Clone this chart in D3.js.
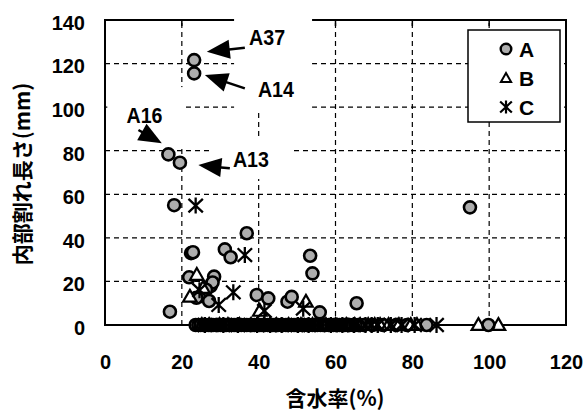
<!DOCTYPE html>
<html>
<head>
<meta charset="utf-8">
<script src="https://cdn.jsdelivr.net/npm/d3@7"></script>
<style>
  body { margin: 0; background: #fff; }
  text { font-family: 'Liberation Sans', Arial, sans-serif; font-weight: bold; fill: #000; }
  .jp { font-family: 'Noto Sans CJK JP', sans-serif; }
</style>
</head>
<body>
<div id="container"></div>
<script>
var xTicks = [0, 20, 40, 60, 80, 100, 120]
var yTicks = [0, 20, 40, 60, 80, 100, 120, 140]
var seriesNames = ['A', 'B', 'C']

// [moisture %, crack length mm]
var seriesA = [
  [23.2, 121.6], [23.2, 115.5], [16.5, 78.3], [19.5, 74.5], [18, 55],
  [36.9, 42.1], [22.4, 33.0], [22.9, 33.4], [31.2, 34.7], [32.7, 31.1],
  [53.4, 31.8], [54, 23.7], [21.9, 21.9], [28.4, 22.2], [27.5, 17.9],
  [28, 19.5], [26.3, 16.2], [25.2, 13.3], [23.8, 12.5], [27.1, 11],
  [16.9, 6.1], [39.5, 13.8], [42.5, 12.2], [47.5, 10.7], [48.6, 12.9],
  [55.9, 5.8], [65.5, 10], [95, 54]
]
var seriesB = [
  [23.9, 23], [22.1, 13], [25.5, 17], [40.3, 6.5], [52.3, 10.7]
]
var seriesC = [
  [23.6, 54.8], [36.4, 32.1], [24.6, 16], [29.6, 9.2], [33.4, 15],
  [41.5, 6.5], [51.6, 7.5]
]
// samples with no internal crack (length 0), moisture only
var zeroA = [23.6, 24.3, 24.9, 25.6, 26.2, 26.9, 27.4, 28.1, 28.8, 29.5, 30.1, 30.9,
  31.5, 32.2, 32.9, 33.6, 34.2, 34.8, 35.5, 36.3, 36.9, 37.6, 38.2, 38.9, 39.6, 40.3,
  40.9, 41.6, 42.4, 43.0, 43.7, 44.3, 45.0, 45.8, 46.4, 47.1, 47.7, 48.5, 49.2, 49.8,
  50.5, 51.3, 51.9, 52.6, 53.2, 54.0, 54.7, 55.3, 56.1, 56.8, 57.4, 58.2, 58.9, 59.5,
  60.3, 61.0, 61.6, 62.4, 63.1, 63.7, 64.5, 65.2, 65.9, 67.3, 69.6, 72.4, 75.8, 78.6,
  83.7, 99.8]
var zeroB = [25.2, 27.1, 29.8, 32.0, 35.0, 38.0, 41.4, 44.6, 47.8, 51.0, 54.0, 57.5,
  60.0, 62.8, 65.0, 66.4, 68.5, 70.2, 71.6, 73.8, 76.5, 79.6, 81.2, 97.2, 102.4]
var zeroC = [26.0, 30.8, 34.6, 39.6, 43.0, 46.0, 50.2, 53.0, 58.8, 61.8, 64.8, 67.8,
  69.4, 71.0, 74.4, 77.2, 80.6, 86.3]

var noteLabels = ['A37', 'A14', 'A16', 'A13']

var width = 585, height = 414
var x = d3.scaleLinear().domain([0, 120]).range([105, 566])
var y = d3.scaleLinear().domain([0, 140]).range([325, 20])

var svg = d3.select('#container').append('svg')
  .attr('width', width).attr('height', height)
svg.append('rect').attr('width', width).attr('height', height).attr('fill', '#fff')

// grid
svg.selectAll('line.gx').data(xTicks.slice(1, -1)).enter().append('line')
  .attr('x1', x).attr('x2', x).attr('y1', y(0)).attr('y2', y(140))
  .attr('stroke', '#000').attr('stroke-width', 1.2).attr('stroke-dasharray', '5,4')
svg.selectAll('line.gy').data(yTicks.slice(1, -1)).enter().append('line')
  .attr('y1', y).attr('y2', y).attr('x1', x(0)).attr('x2', x(120))
  .attr('stroke', '#000').attr('stroke-width', 1.2).attr('stroke-dasharray', '5,4')

// frame
svg.append('rect')
  .attr('x', x(0)).attr('y', y(140))
  .attr('width', x(120) - x(0)).attr('height', y(0) - y(140))
  .attr('fill', 'none').attr('stroke', '#000').attr('stroke-width', 2)
svg.selectAll('line.tk').data(xTicks.slice(1, -1)).enter().append('line')
  .attr('x1', x).attr('x2', x).attr('y1', y(140)).attr('y2', y(140) + 6)
  .attr('stroke', '#000').attr('stroke-width', 1.5)

// white patches behind the annotations (data units)
var masks = [[33.6, 53.9, 97.5, 143], [0.6, 20.8, 82.6, 109.2], [27.9, 48.7, 67, 85]]
svg.selectAll('rect.mask').data(masks).enter().append('rect')
  .attr('x', function (d) { return x(d[0]) })
  .attr('y', function (d) { return y(d[3]) })
  .attr('width', function (d) { return x(d[1]) - x(d[0]) })
  .attr('height', function (d) { return y(d[2]) - y(d[3]) })
  .attr('fill', '#fff')

// axes
var yAxis = svg.append('g').attr('transform', 'translate(' + x(0) + ',0)')
  .call(d3.axisLeft(y).tickValues(yTicks).tickSize(0).tickPadding(20))
var xAxis = svg.append('g').attr('transform', 'translate(0,' + y(0) + ')')
  .call(d3.axisBottom(x).tickValues(xTicks).tickSize(0).tickPadding(30))
yAxis.select('.domain').remove()
xAxis.select('.domain').remove()
yAxis.selectAll('text').attr('dy', '0.47em')
svg.selectAll('.tick text')
  .style('font-family', "'Liberation Sans', Arial, sans-serif")
  .style('font-weight', 'bold').style('font-size', '20px').attr('fill', '#000')

svg.append('text').attr('class', 'jp')
  .attr('transform', 'translate(23,174) rotate(-90)')
  .attr('text-anchor', 'middle').attr('dy', '0.35em')
  .style('font-size', '21px')
  .text('内部割れ長さ(mm)')
svg.append('text').attr('class', 'jp')
  .attr('x', 335).attr('y', 399)
  .attr('text-anchor', 'middle').attr('dy', '0.35em')
  .style('font-size', '21px')
  .text('含水率(%)')

// markers
function star(s) {
  return 'M0,' + (-s) + 'L0,' + s +
    'M' + (-s * 0.9) + ',' + (-s * 0.85) + 'L' + (s * 0.9) + ',' + (s * 0.85) +
    'M' + (-s * 0.9) + ',' + (s * 0.85) + 'L' + (s * 0.9) + ',' + (-s * 0.85)
}
var tri = d3.symbol().type(d3.symbolTriangle)

// fill / stroke can be split so the crowded zero row reads as one dark band
function drawA(g, data, r, fill, stroke) {
  g.selectAll('circle.a').data(data).enter().append('circle')
    .attr('cx', function (d) { return x(d[0]) })
    .attr('cy', function (d) { return y(d[1]) })
    .attr('r', r).attr('fill', fill ? '#adadad' : 'none')
    .attr('stroke', stroke ? '#000' : 'none').attr('stroke-width', 2.6)
}
function drawB(g, data, size, fill, stroke) {
  g.selectAll('path.b').data(data).enter().append('path')
    .attr('transform', function (d) { return 'translate(' + x(d[0]) + ',' + (y(d[1]) + 1) + ')' })
    .attr('d', tri.size(size)).attr('fill', fill ? '#fff' : 'none')
    .attr('stroke', stroke ? '#000' : 'none').attr('stroke-width', 2.2)
}
function drawC(g, data, s) {
  g.selectAll('path.c').data(data).enter().append('path')
    .attr('transform', function (d) { return 'translate(' + x(d[0]) + ',' + y(d[1]) + ')' })
    .attr('d', star(s)).attr('fill', 'none').attr('stroke', '#000').attr('stroke-width', 2.3)
}
function withZero(list) {
  return list.map(function (v) { return [v, 0] })
}

var zeroRow = svg.append('g')
drawA(zeroRow.append('g'), withZero(zeroA), 6, true, false)
drawB(zeroRow.append('g'), withZero(zeroB), 80, true, false)
drawA(zeroRow.append('g'), withZero(zeroA), 6, false, true)
drawB(zeroRow.append('g'), withZero(zeroB), 80, false, true)
drawC(zeroRow.append('g'), withZero(zeroC), 8)

var marks = svg.append('g')
drawA(marks.append('g'), seriesA, 6, true, true)
drawB(marks.append('g'), seriesB, 80, true, true)
drawC(marks.append('g'), seriesC, 8)

// annotations: label position, arrow tail, arrow tip (data units)
var notes = [
  { t: [37.5, 128.5], from: [36.4, 127.3], to: [26.5, 125.4] },
  { t: [39.8, 104.8], from: [36.4, 108.6], to: [26.0, 114.7] },
  { t: [5.6, 92.6], from: [8.7, 89.5], to: [14.8, 83.4] },
  { t: [33.3, 72.5], from: [32.5, 71.9], to: [24.3, 73.4] }
]
notes.forEach(function (n, i) {
  var x0 = x(n.from[0]), y0 = y(n.from[1]), x1 = x(n.to[0]), y1 = y(n.to[1])
  var len = Math.hypot(x1 - x0, y1 - y0)
  var ux = (x1 - x0) / len, uy = (y1 - y0) / len
  var L = 23, W = 9.5
  var bx = x1 - ux * L, by = y1 - uy * L
  svg.append('line').attr('x1', x0).attr('y1', y0).attr('x2', bx + ux * 3).attr('y2', by + uy * 3)
    .attr('stroke', '#000').attr('stroke-width', 2.5)
  svg.append('path')
    .attr('d', 'M' + x1 + ',' + y1 + 'L' + (bx - uy * W) + ',' + (by + ux * W) +
      'L' + (bx + uy * W) + ',' + (by - ux * W) + 'Z')
    .attr('fill', '#000')
  svg.append('text')
    .attr('x', x(n.t[0])).attr('y', y(n.t[1]))
    .attr('textLength', 36).attr('lengthAdjust', 'spacingAndGlyphs')
    .style('font-size', '22px')
    .text(noteLabels[i])
})

// legend
var lg = svg.append('g').attr('transform', 'translate(468,30)')
lg.append('rect').attr('width', 92).attr('height', 92)
  .attr('fill', '#fff').attr('stroke', '#000').attr('stroke-width', 1.5)
var rowY = [19, 48, 77]
seriesNames.forEach(function (name, i) {
  var row = lg.append('g').attr('transform', 'translate(38,' + rowY[i] + ')')
  if (i === 0) row.append('circle').attr('r', 5.3).attr('fill', '#adadad').attr('stroke', '#000').attr('stroke-width', 2.4)
  if (i === 1) row.append('path').attr('transform', 'translate(0,1)').attr('d', tri.size(45)).attr('fill', '#fff').attr('stroke', '#000').attr('stroke-width', 2)
  if (i === 2) row.append('path').attr('d', star(6.5)).attr('fill', 'none').attr('stroke', '#000').attr('stroke-width', 2.2)
  row.append('text').attr('x', 13).attr('dy', '0.36em').style('font-size', '21px').text(name)
})
</script>
</body>
</html>
